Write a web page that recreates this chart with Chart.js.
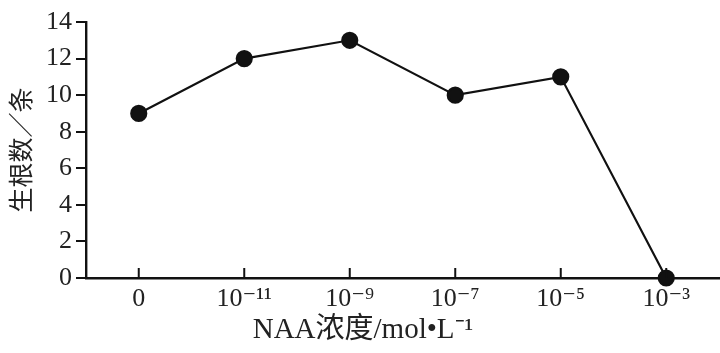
<!DOCTYPE html>
<html>
<head>
<meta charset="utf-8">
<script src="https://cdn.jsdelivr.net/npm/chart.js@4"></script>
<style>
html, body { margin: 0; padding: 0; background: #fff; }
#wrap { width: 720px; height: 353px; }
</style>
</head>
<body>
<div id="wrap"><canvas id="grafico"></canvas></div>
<script>
// dados
const categorias = ['0', '10⁻¹¹', '10⁻⁹', '10⁻⁷', '10⁻⁵', '10⁻³'];
const raizes = [9, 12, 13, 10, 11, 0];
const ticksY = [0, 2, 4, 6, 8, 10, 12, 14];
const tituloX = 'NAA浓度/mol•L⁻¹';
const tituloY = '生根数／条';

const fonteSerif = '"Liberation Serif", "DejaVu Serif", serif';

// marcas do eixo x voltadas para dentro + titulo do eixo x
const marcasX = {
    id: 'marcasX',
    afterDatasetsDraw(chart) {
        const ctx = chart.ctx;
        const x = chart.scales.x;
        const y0 = chart.chartArea.bottom;
        ctx.save();
        ctx.strokeStyle = '#111';
        ctx.lineWidth = 2;
        x.ticks.forEach((t, i) => {
            const px = x.getPixelForTick(i);
            ctx.beginPath();
            ctx.moveTo(px, y0);
            ctx.lineTo(px, y0 - 10);
            ctx.stroke();
        });
        ctx.fillStyle = '#222';
        ctx.font = '29px "Liberation Serif", "Noto Sans CJK SC", serif';
        ctx.textAlign = 'center';
        ctx.textBaseline = 'middle';
        ctx.fillText(tituloX, 363, 330);
        ctx.restore();
    }
};

new Chart(document.getElementById('grafico'), {
    type: 'line',
    data: {
        labels: categorias,
        datasets: [{
            data: raizes,
            borderColor: '#111',
            borderWidth: 2.2,
            backgroundColor: '#111',
            pointRadius: 7.5,
            pointHoverRadius: 7.5,
            fill: false,
            tension: 0,
            clip: false
        }]
    },
    options: {
        responsive: true,
        maintainAspectRatio: false,
        animation: false,
        layout: { autoPadding: false, padding: { top: 22, right: 1, left: 0, bottom: 0 } },
        plugins: {
            legend: { display: false },
            tooltip: { enabled: false }
        },
        scales: {
            x: {
                offset: true,
                grid: { display: false, drawTicks: false },
                border: { display: true, color: '#111', width: 2.4 },
                ticks: {
                    color: '#222',
                    padding: 6,
                    font: { family: fonteSerif, size: 26 }
                },
                afterFit(s) {
                    s.height = 75;
                    s.paddingLeft = 0;
                    s.paddingRight = 0;
                }
            },
            y: {
                min: 0,
                max: 14,
                afterBuildTicks(s) { s.ticks = ticksY.map(v => ({ value: v })); },
                grid: {
                    drawOnChartArea: false,
                    drawTicks: true,
                    tickLength: 10,
                    color: '#111',
                    lineWidth: 2
                },
                border: { display: true, color: '#111', width: 2.4 },
                ticks: {
                    color: '#222',
                    padding: 4,
                    font: { family: fonteSerif, size: 26 }
                },
                title: {
                    display: true,
                    text: tituloY,
                    color: '#222',
                    padding: { top: 5, bottom: 0 },
                    font: { family: '"Noto Sans CJK SC", sans-serif', size: 25 }
                },
                afterFit(s) { s.width = 86; }
            }
        }
    },
    plugins: [marcasX]
});
</script>
</body>
</html>
